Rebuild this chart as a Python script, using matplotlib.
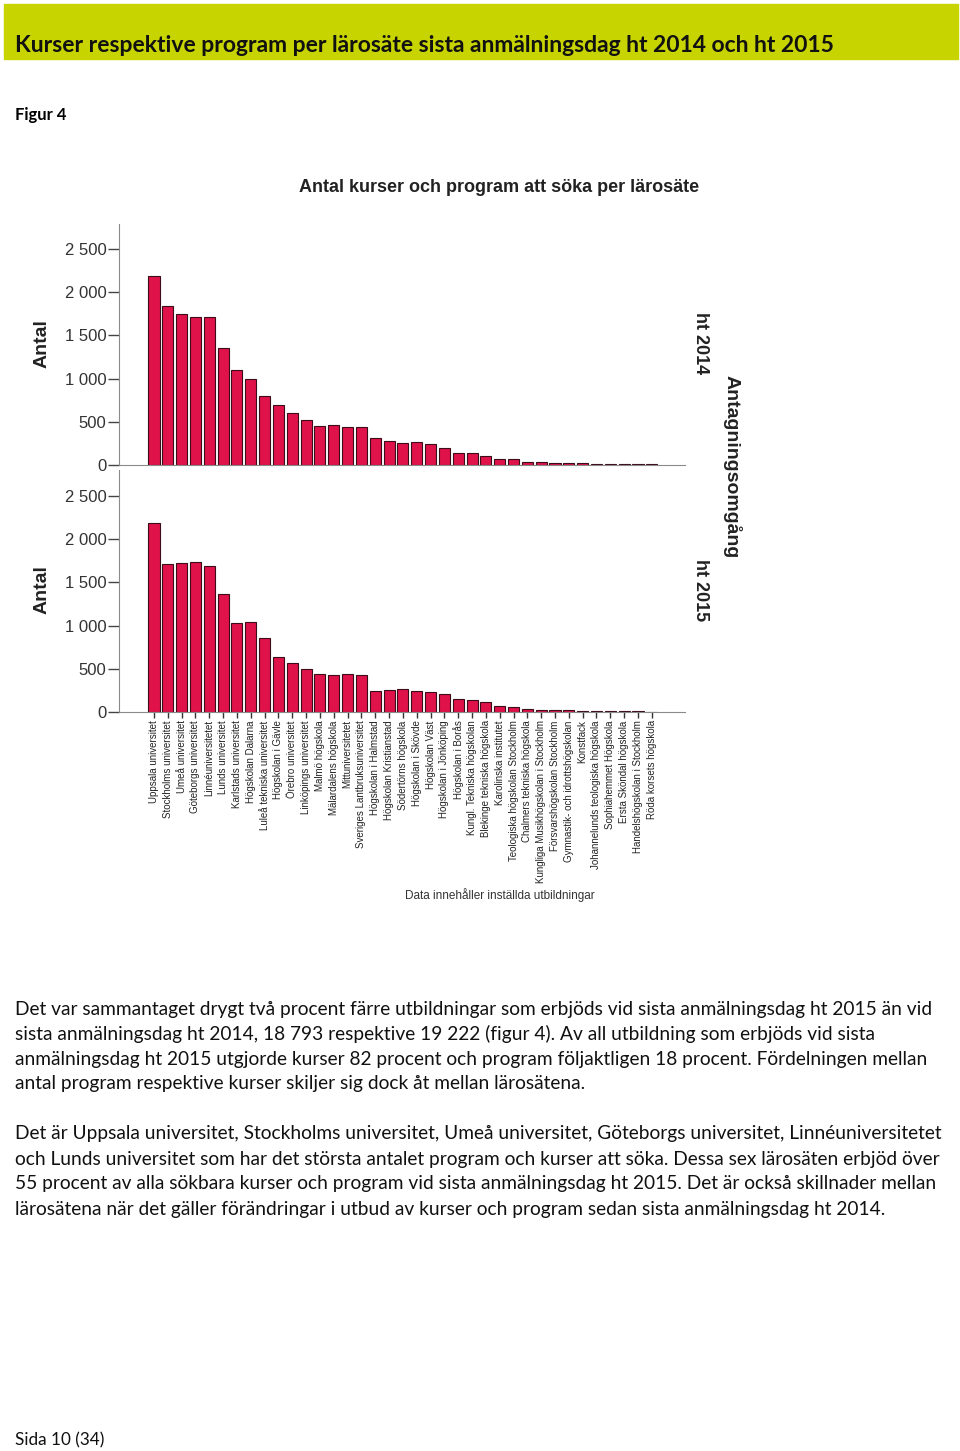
import matplotlib

matplotlib.use("Agg")
import matplotlib.pyplot as plt
from matplotlib.patches import Rectangle
import numpy as np

# ── Data
schools = [
    "Uppsala universitet", "Stockholms universitet", "Umeå universitet",
    "Göteborgs universitet", "Linnéuniversitetet", "Lunds universitet",
    "Karlstads universitet", "Högskolan Dalarna", "Luleå tekniska universitet",
    "Högskolan i Gävle", "Örebro universitet", "Linköpings universitet",
    "Malmö högskola", "Mälardalens högskola", "Mittuniversitetet",
    "Sveriges Lantbruksuniversitet", "Högskolan i Halmstad",
    "Högskolan Kristianstad", "Södertörns högskola", "Högskolan i Skövde",
    "Högskolan Väst", "Högskolan i Jönköping", "Högskolan i Borås",
    "Kungl. Tekniska högskolan", "Blekinge tekniska högskola",
    "Karolinska institutet", "Teologiska högskolan Stockholm",
    "Chalmers tekniska högskola", "Kungliga Musikhögskolan i Stockholm",
    "Försvarshögskolan Stockholm", "Gymnastik- och idrottshögskolan",
    "Konstfack", "Johannelunds teologiska högskola", "Sophiahemmet Högskola",
    "Ersta Sköndal högskola", "Handelshögskolan i Stockholm",
    "Röda korsets högskola",
]
ht2014 = [
    2183, 1836, 1743, 1717, 1709, 1358, 1095, 999, 798, 690, 597, 524,
    451, 467, 435, 435, 316, 281, 258, 266, 247, 193, 139, 139, 108, 73,
    65, 35, 33, 23, 23, 23, 15, 15, 10, 10, 8,
]
ht2015 = [
    2181, 1710, 1721, 1741, 1694, 1366, 1027, 1046, 857, 633, 572, 502,
    440, 425, 440, 425, 243, 251, 271, 240, 231, 213, 147, 139, 116, 69,
    62, 35, 23, 23, 23, 15, 15, 8, 8, 8, 5,
]
panel_labels = ["ht 2014", "ht 2015"]
yticks = [0, 500, 1000, 1500, 2000, 2500]
ytick_labels = ["0", "500", "1 000", "1 500", "2 000", "2 500"]

para1 = [
    "Det var sammantaget drygt två procent färre utbildningar som erbjöds vid sista anmälningsdag ht 2015 än vid",
    "sista anmälningsdag ht 2014, 18 793 respektive 19 222 (figur 4). Av all utbildning som erbjöds vid sista",
    "anmälningsdag ht 2015 utgjorde kurser 82 procent och program följaktligen 18 procent. Fördelningen mellan",
    "antal program respektive kurser skiljer sig dock åt mellan lärosätena.",
]
para2 = [
    "Det är Uppsala universitet, Stockholms universitet, Umeå universitet, Göteborgs universitet, Linnéuniversitetet",
    "och Lunds universitet som har det största antalet program och kurser att söka. Dessa sex lärosäten erbjöd över",
    "55 procent av alla sökbara kurser och program vid sista anmälningsdag ht 2015. Det är också skillnader mellan",
    "lärosätena när det gäller förändringar i utbud av kurser och program sedan sista anmälningsdag ht 2014.",
]

# ── Figure
W, H = 960, 1451
fig = plt.figure(figsize=(W / 100, H / 100), dpi=100)
fig.patch.set_facecolor("white")


def box(x0, y0, x1, y1):
    return [x0 / W, 1 - y1 / H, (x1 - x0) / W, (y1 - y0) / H]


def ftext(x, y, s, **kw):
    fig.text(x / W, 1 - y / H, s, **kw)


DOC = ["Lato", "DejaVu Sans"]
CHART = ["Liberation Sans", "DejaVu Sans"]

# header band
fig.patches.append(Rectangle((4 / W, 1 - 59 / H), 954 / W, 55 / H,
                             transform=fig.transFigure, color="#c8d400", zorder=0))
ftext(15, 45, "Kurser respektive program per lärosäte sista anmälningsdag ht 2014 och ht 2015",
      fontsize=16.5, fontweight="bold", family=DOC, va="center", color="#111111")
ftext(15, 115, "Figur 4", fontsize=12, fontweight="bold", family=DOC, va="center")

# chart
x = np.arange(len(schools))
BAR = "#e0124a"
EDGE = "#3c0c18"
GRAY = "#8a8a8a"

axes = [fig.add_axes(box(119, 224, 685, 465)), fig.add_axes(box(119, 470, 685, 712))]
tops = [2790, 2800]
for i, (ax, vals) in enumerate(zip(axes, [ht2014, ht2015])):
    ax.bar(x, vals, width=0.8, color=BAR, edgecolor=EDGE, linewidth=0.8, zorder=2)
    ax.set_xlim(-2.53, 38.4)
    ax.set_ylim(0, tops[i])
    ax.set_yticks(yticks)
    ax.set_yticklabels(ytick_labels, family=CHART, fontsize=12, color="#333333")
    ax.tick_params(axis="y", direction="out", length=8, width=1, color="#444444", pad=1)
    for s in ["top", "right"]:
        ax.spines[s].set_visible(False)
    ax.spines["left"].set_color(GRAY)
    ax.spines["bottom"].set_color(GRAY)
    ax.set_facecolor("none")

axes[0].set_xticks([])
axes[1].set_xticks(x)
axes[1].set_xticklabels(schools, rotation=90, family=CHART, fontsize=7, color="#222222")
axes[1].tick_params(axis="x", direction="out", length=4, width=1, color="#333333", pad=2)

ftext(499, 188, "Antal kurser och program att söka per lärosäte", fontsize=13,
      fontweight="bold", family=CHART, ha="center", va="center", color="#222222")
ftext(42, 344, "Antal", fontsize=14, fontweight="bold", family=CHART, rotation=90,
      ha="center", va="center", color="#222222")
ftext(42, 590, "Antal", fontsize=14, fontweight="bold", family=CHART, rotation=90,
      ha="center", va="center", color="#222222")
ftext(700, 343, panel_labels[0], fontsize=13, fontweight="bold", family=CHART,
      rotation=-90, ha="center", va="center", color="#222222")
ftext(700, 590, panel_labels[1], fontsize=13, fontweight="bold", family=CHART,
      rotation=-90, ha="center", va="center", color="#222222")
ftext(732, 467, "Antagningsomgång", fontsize=14, fontweight="bold", family=CHART,
      rotation=-90, ha="center", va="center", color="#222222")
ftext(500, 895, "Data innehåller inställda utbildningar", fontsize=8.5, family=CHART,
      ha="center", va="center", color="#333333")

# body text
for j, line in enumerate(para1):
    ftext(15, 1009 + 25 * j, line, fontsize=13.75, family=DOC, va="center", color="#111111")
for j, line in enumerate(para2):
    ftext(15, 1134 + 25 * j, line, fontsize=13.75, family=DOC, va="center", color="#111111")
ftext(15, 1440, "Sida 10 (34)", fontsize=12.3, family=DOC, va="center", color="#111111")

fig.savefig("out.png", dpi=100)
